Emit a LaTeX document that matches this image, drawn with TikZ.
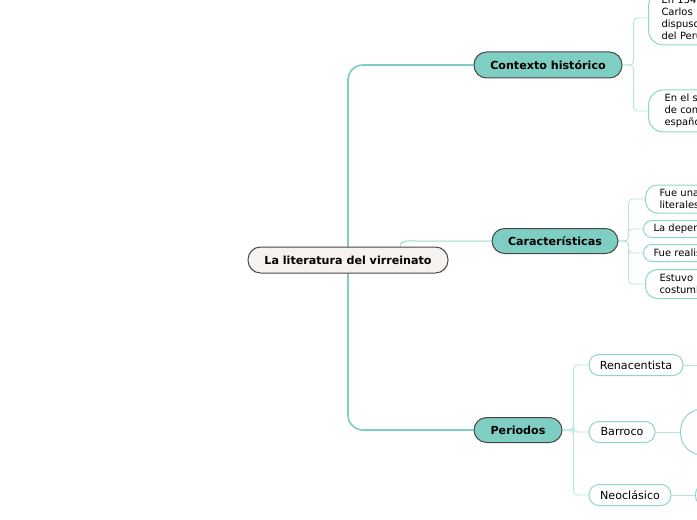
\documentclass[tikz,border=0pt]{standalone}
\usepackage{fontspec}
\setmainfont{DejaVu Sans}
\usetikzlibrary{backgrounds, calc}

\definecolor{tealfill}{RGB}{127,206,195}
\definecolor{rootfill}{RGB}{245,242,240}
\definecolor{darkline}{RGB}{70,70,70}
\definecolor{spine}{RGB}{127,206,195}
\definecolor{lightline}{RGB}{182,229,221}
\definecolor{leafline}{RGB}{140,214,202}

\begin{document}
\begin{tikzpicture}[x=0.3mm, y=-0.3mm,
    main/.style={draw=darkline, line width=0.3mm, rounded corners=3.8mm, inner sep=0pt,
        font=\fontsize{9.5}{11}\selectfont\bfseries},
    topic/.style={main, fill=tealfill},
    leaf/.style={draw=leafline, line width=0.3mm, fill=white, anchor=west, align=left,
        text width=30mm, inner ysep=0pt, font=\fontsize{8.5}{10.2}\selectfont},
    period/.style={draw=leafline, line width=0.3mm, fill=white, rounded corners=3mm,
        minimum height=6.3mm, inner sep=0pt, font=\fontsize{9.5}{11}\selectfont},
    link/.style={draw=lightline, line width=0.25mm}
]
    \useasboundingbox (0,0) rectangle (697,520);
    \clip (0,0) rectangle (697,520);

    % Central topic and main branches
    \node[main, fill=rootfill, minimum width=60mm, minimum height=7.8mm] (root) at (348,260) {La literatura del virreinato};
    \node[topic, minimum width=44.4mm, minimum height=7.8mm] (ctx) at (548,65) {Contexto histórico};
    \node[topic, minimum width=37.8mm, minimum height=7.5mm] (car) at (555,241) {Características};
    \node[topic, minimum width=26.4mm, minimum height=7.5mm] (per) at (518,430) {Periodos};

    % Contexto histórico
    \node[leaf, rounded corners=4.5mm, minimum height=16.2mm, inner xsep=3.9mm] (c1) at (648,18)
        {En 1542,\\Carlos I\\dispuso\\del Perú};
    \node[leaf, rounded corners=4.5mm, minimum height=12.6mm, inner xsep=4.8mm] (c2) at (648,111)
        {En el siglo\\de conquista\\españoles};

    % Características
    \node[leaf, rounded corners=3.6mm, minimum height=8.4mm, inner xsep=4.2mm] (k1) at (645,199)
        {Fue una\\literales};
    \node[leaf, rounded corners=2.5mm, minimum height=5.1mm, inner xsep=3mm] (k2) at (643,229)
        {La dependencia};
    \node[leaf, rounded corners=2.5mm, minimum height=5.1mm, inner xsep=3mm] (k3) at (643,253)
        {Fue realista};
    \node[leaf, rounded corners=3.6mm, minimum height=8.7mm, inner xsep=4.2mm] (k4) at (645,284)
        {Estuvo ligada\\costumbres};

    % Periodos
    \node[period, minimum width=28.2mm] (ren) at (636,365) {Renacentista};
    \node[period, minimum width=19.8mm] (bar) at (622,432) {Barroco};
    \node[period, minimum width=24.6mm] (neo) at (630,495) {Neoclásico};
    \node[draw=leafline, line width=0.3mm, fill=white, rounded corners=6.6mm, anchor=west,
        minimum width=15mm, minimum height=13.8mm] (barx) at (680,432) {};
    \node[draw=leafline, line width=0.3mm, fill=white, rounded corners=3mm, anchor=west,
        minimum width=10mm, minimum height=6.6mm] (neox) at (695,495) {};
    \coordinate (renx) at (700,365);

    \begin{scope}[on background layer]
        % Spine
        \draw[draw=spine, line width=0.5mm, rounded corners=4.5mm]
            (ctx.west) -- (ctx.west -| root.center) -- (per.west -| root.center) -- (per.west);
        \coordinate (rt) at ($(root.north)+(52,0)$);
        \coordinate (cb) at (416,241);
        \draw[draw=spine!80, line width=0.3mm] (car.west) -- (cb) to[out=180, in=90] (rt);

        % Sub-branches
        \foreach \c in {c1, c2}
            \draw[link, rounded corners=1.2mm] (ctx.east) -- ++(11,0) |- (\c.west);
        \foreach \k in {k1, k2, k3, k4}
            \draw[link, rounded corners=1.2mm] (car.east) -- ++(10,0) |- (\k.west);
        \foreach \p in {ren, bar, neo}
            \draw[link, rounded corners=1.2mm] (per.east) -- ++(11,0) |- (\p.west);
        \draw[link] (ren.east) -- (renx);
        \draw[link] (bar.east) -- (barx.west);
        \draw[link] (neo.east) -- (neox.west);
    \end{scope}
\end{tikzpicture}
\end{document}
